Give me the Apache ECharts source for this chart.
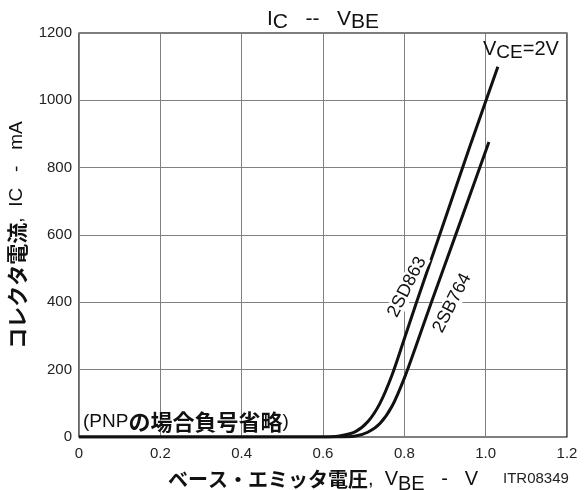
<!DOCTYPE html>
<html>
<head>
<meta charset="utf-8">
<script src="https://cdn.jsdelivr.net/npm/echarts@6/dist/echarts.min.js"></script>
<style>
html,body{margin:0;padding:0;background:#fff;}
#c{width:584px;height:490px;}
</style>
</head>
<body>
<div id="c"></div>
<script>
// Data (VBE in V, IC in mA)
const vbe2SD863 = [0, 0.60, 0.64, 0.68, 0.71, 0.74, 0.77, 0.80, 0.83, 0.90, 0.96, 1.03];
const ic2SD863  = [0, 0,    3,    16,   45,   100,  185,  292,  400,  647,  859,  1100];
const vbe2SB764 = [0, 0.64, 0.68, 0.71, 0.74, 0.77, 0.80, 0.83, 0.867, 0.93, 1.008];
const ic2SB764  = [0, 0,    3,    14,   40,   92,   175,  275,  402,   613,  876];
const xTicks = [0, 0.2, 0.4, 0.6, 0.8, 1.0, 1.2];
const yTicks = [0, 200, 400, 600, 800, 1000, 1200];

const FONT = "'Liberation Sans', Arial, 'Noto Sans CJK JP', sans-serif";
const JFONT = "'Noto Sans CJK JP', 'Liberation Sans', sans-serif";

function pairs(xs, ys) { return xs.map((x, i) => [x, ys[i]]); }

const chart = echarts.init(document.getElementById('c'));
const lineStyle = { color: '#111', width: 3 };

chart.setOption({
  animation: false,
  backgroundColor: '#fff',
  grid: { left: 79, right: 17, top: 33, bottom: 53, containLabel: false, outerBoundsMode: 'none',
    show: true, borderColor: '#000', borderWidth: 1.2 },
  title: {
    text: '{n|I}{s|C}{n|   --   V}{s|BE}',
    left: 262,
    top: 1,
    textStyle: {
      fontWeight: 'normal',
      rich: {
        n: { fontFamily: FONT, fontSize: 21, fontWeight: 'normal', color: '#111' },
        s: { fontFamily: FONT, fontSize: 21, fontWeight: 'normal', color: '#111', padding: [6, 0, 0, 0] }
      }
    }
  },
  xAxis: {
    type: 'value', min: 0, max: 1.2, interval: 0.2,
    axisLine: { show: false }, axisTick: { show: false },
    splitLine: { show: true, lineStyle: { color: '#808080', width: 1 } },
    axisLabel: { fontFamily: FONT, fontSize: 15, color: '#222', margin: 9,
      formatter: v => (v === 0 ? '0' : v.toFixed(1)) },
    name: '{j|ベース・エミッタ電圧}{n|,  V}{s|BE}{n|   -   V}',
    nameLocation: 'middle', nameGap: 27,
    nameTextStyle: {
      rich: {
        j: { fontFamily: JFONT, fontSize: 20, fontWeight: 'bold', color: '#111' },
        n: { fontFamily: FONT, fontSize: 20, color: '#111' },
        s: { fontFamily: FONT, fontSize: 20, color: '#111', padding: [10, 0, 0, 0] }
      }
    }
  },
  yAxis: {
    type: 'value', min: 0, max: 1200, interval: 200,
    axisLine: { show: false }, axisTick: { show: false },
    splitLine: { show: true, lineStyle: { color: '#808080', width: 1 } },
    axisLabel: { fontFamily: FONT, fontSize: 15, color: '#222', margin: 7, formatter: v => String(v) },
    name: '{j|コレクタ電流}{n|,  IC   -   mA}',
    nameLocation: 'middle', nameGap: 44, nameRotate: 90,
    nameTextStyle: {
      rich: {
        j: { fontFamily: JFONT, fontSize: 21, fontWeight: 'bold', color: '#111' },
        n: { fontFamily: FONT, fontSize: 19, color: '#111' }
      }
    }
  },
  series: [
    { name: '2SD863', type: 'line', data: pairs(vbe2SD863, ic2SD863), smooth: 0.3,
      showSymbol: false, lineStyle: lineStyle, z: 5 },
    { name: '2SB764', type: 'line', data: pairs(vbe2SB764, ic2SB764), smooth: 0.3,
      showSymbol: false, lineStyle: lineStyle, z: 5 }
  ],
  graphic: [
    { type: 'text', left: 83, top: 411, z: 10,
      style: { text: '{n|(PNP}{j|の場合負号省略}{n|)}', rich: {
        n: { fontFamily: FONT, fontSize: 19, fill: '#111' },
        j: { fontFamily: JFONT, fontSize: 22, fontWeight: 'bold', fill: '#111' } } } },
    { type: 'text', x: 407, y: 287, rotation: 63 * Math.PI / 180, z: 10,
      style: { text: '2SD863', font: "18px 'Liberation Sans', Arial", fill: '#111',
        align: 'center', verticalAlign: 'middle', backgroundColor: '#fff', padding: [0, 2] } },
    { type: 'text', x: 452, y: 303, rotation: 63 * Math.PI / 180, z: 10,
      style: { text: '2SB764', font: "18px 'Liberation Sans', Arial", fill: '#111',
        align: 'center', verticalAlign: 'middle', backgroundColor: '#fff', padding: [0, 2] } },
    { type: 'text', left: 483, top: 39, z: 10,
      style: { text: '{n|V}{s|CE}{n|=2V}', rich: {
        n: { fontFamily: FONT, fontSize: 20, fill: '#111' },
        s: { fontFamily: FONT, fontSize: 19, fill: '#111', padding: [8, 0, 0, 0] } } } },
    { type: 'text', left: 503, top: 471, z: 10,
      style: { text: 'ITR08349', font: "15px 'Liberation Sans', Arial", fill: '#222' } }
  ]
});
</script>
</body>
</html>
